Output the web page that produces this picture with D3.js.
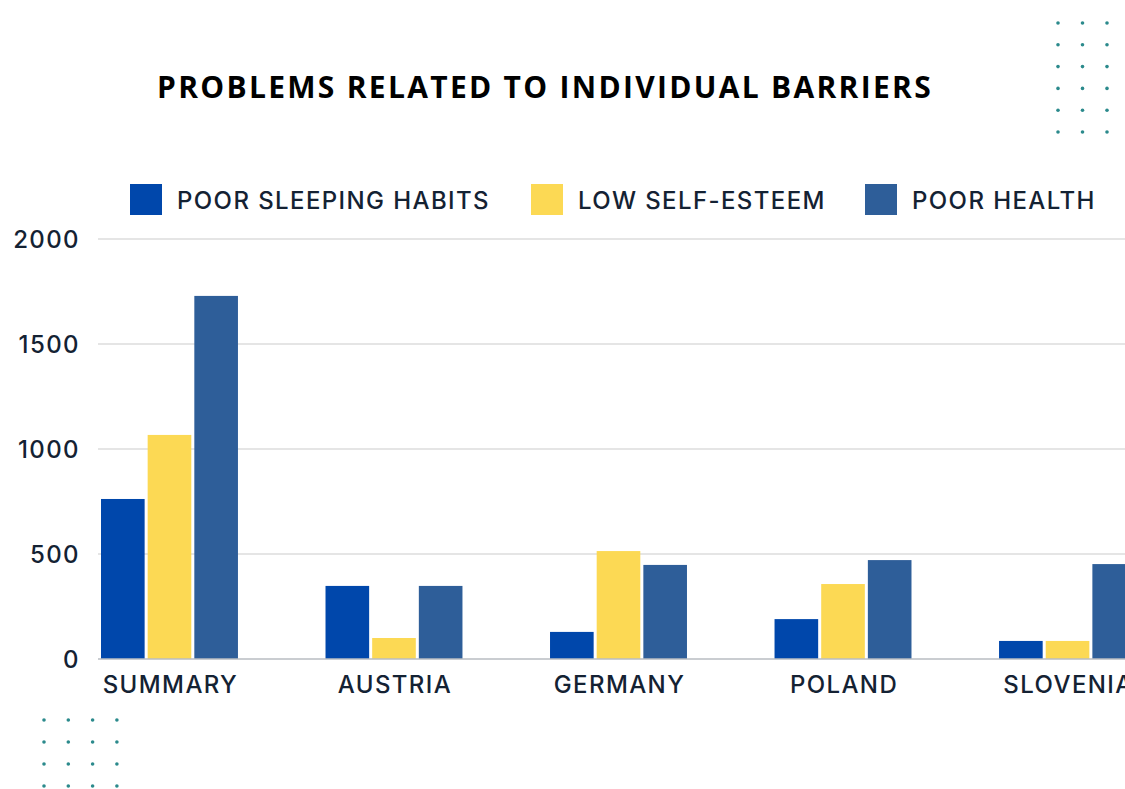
<!DOCTYPE html>
<html>
<head>
<meta charset="utf-8">
<script src="https://cdn.jsdelivr.net/npm/d3@7"></script>
<style>
  html, body { margin: 0; padding: 0; background: #fff; overflow: hidden; }
  svg { display: block; }
</style>
</head>
<body>
<svg id="chart" width="1125" height="789"></svg>
<script>
// chart data
const categories = ["SUMMARY", "AUSTRIA", "GERMANY", "POLAND", "SLOVENIA"];
const seriesNames = ["POOR SLEEPING HABITS", "LOW SELF-ESTEEM", "POOR HEALTH"];
const sleepingHabits = [762, 348, 129, 190, 86];
const selfEsteem = [1067, 100, 514, 357, 86];
const poorHealth = [1729, 348, 448, 471, 452];
const yTicks = [0, 500, 1000, 1500, 2000];
const colors = ["#0047ab", "#fcd954", "#2e5e99"];

const seriesValues = [sleepingHabits, selfEsteem, poorHealth];
const textColor = "#142233";
const labelFont = "Inter, 'Noto Sans', sans-serif";

let svg = d3.select("#chart");

let margin = { top: 239, left: 101, bottom: 659 };

let x = d3.scaleBand().domain(categories).range([margin.left, margin.left + 1035]).paddingInner(0.39).paddingOuter(0);
let xInner = d3.scaleBand().domain(seriesNames).range([0, x.bandwidth()]).paddingInner(0.065);
let y = d3.scaleLinear().domain([0, 2000]).range([margin.bottom, margin.top]);

function labelStyle(sel) {
  sel.style("font-family", labelFont)
    .style("font-size", "24px")
    .style("font-weight", 500)
    .style("letter-spacing", "1.4px")
    .style("fill", textColor);
}

// grid lines
svg.append("g")
  .selectAll("line")
  .data(yTicks.filter(d => d > 0))
  .enter().append("line")
  .attr("x1", 98)
  .attr("x2", 1125)
  .attr("y1", d => y(d))
  .attr("y2", d => y(d))
  .style("stroke", "#dcdcdc")
  .style("stroke-width", 1.5);

// y axis labels
svg.append("g")
  .selectAll("text")
  .data(yTicks)
  .enter().append("text")
  .attr("x", 80)
  .attr("y", d => y(d))
  .attr("dy", "0.36em")
  .attr("text-anchor", "end")
  .call(labelStyle)
  .text(d => d);

// bars
let groups = svg.append("g")
  .selectAll("g")
  .data(categories)
  .enter().append("g")
  .attr("transform", d => "translate(" + x(d) + ",0)");

groups.selectAll("rect")
  .data((c, i) => seriesNames.map((s, j) => ({ series: s, value: seriesValues[j][i], idx: j })))
  .enter().append("rect")
  .attr("x", d => xInner(d.series))
  .attr("y", d => y(d.value))
  .attr("width", xInner.bandwidth())
  .attr("height", d => y(0) - y(d.value))
  .style("fill", d => colors[d.idx]);

// baseline
svg.append("line")
  .attr("x1", 98)
  .attr("x2", 1125)
  .attr("y1", y(0))
  .attr("y2", y(0))
  .style("stroke", "#b8bcc2")
  .style("stroke-width", 1.5);

// x axis labels (the last one runs off the right edge, as in the source)
svg.append("g")
  .selectAll("text")
  .data(categories)
  .enter().append("text")
  .attr("x", d => x(d) + x.bandwidth() / 2 + 1)
  .attr("y", 684)
  .attr("dy", "0.36em")
  .attr("text-anchor", "middle")
  .call(labelStyle)
  .text(d => d);

// legend
const legendX = [130, 531, 865];
let legend = svg.append("g")
  .selectAll("g")
  .data(seriesNames)
  .enter().append("g")
  .attr("transform", (d, i) => "translate(" + legendX[i] + ",184)");

legend.append("rect")
  .attr("width", 32)
  .attr("height", 31)
  .style("fill", (d, i) => colors[i]);

legend.append("text")
  .attr("x", 47)
  .attr("y", 16)
  .attr("dy", "0.36em")
  .call(labelStyle)
  .text(d => d);

// title
svg.append("text")
  .attr("x", 545)
  .attr("y", 87)
  .attr("dy", "0.36em")
  .attr("text-anchor", "middle")
  .style("font-family", "'Open Sans', sans-serif")
  .style("font-size", "30px")
  .style("font-weight", 700)
  .style("letter-spacing", "2.3px")
  .style("fill", "#000")
  .text("PROBLEMS RELATED TO INDIVIDUAL BARRIERS");

// decorative dot grids
function dotGrid(x0, y0, cols, rows, dx, dy) {
  let pts = [];
  for (let r = 0; r < rows; r++) {
    for (let c = 0; c < cols; c++) pts.push([x0 + c * dx, y0 + r * dy]);
  }
  svg.append("g")
    .selectAll("circle")
    .data(pts)
    .enter().append("circle")
    .attr("cx", d => d[0])
    .attr("cy", d => d[1])
    .attr("r", 1.8)
    .style("fill", "#2b8a8c");
}
dotGrid(1058, 23, 3, 6, 24.5, 21.8);
dotGrid(44, 720, 4, 4, 24.3, 22);
</script>
</body>
</html>
